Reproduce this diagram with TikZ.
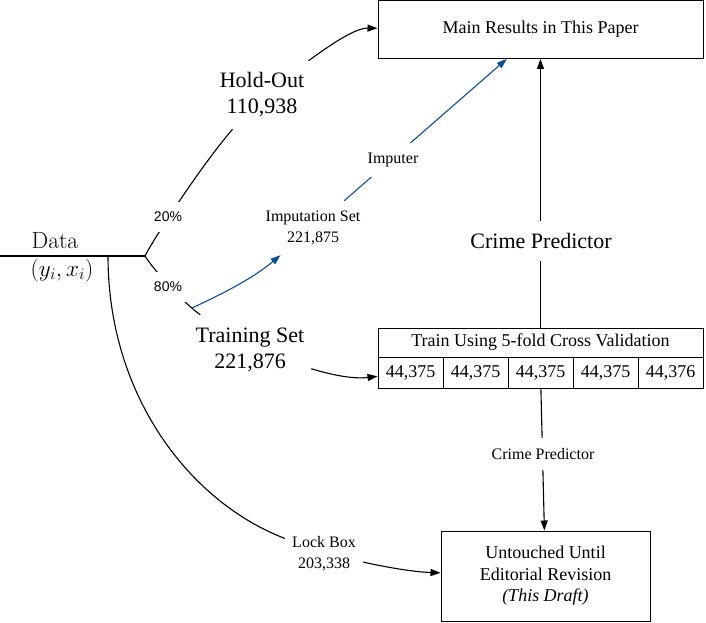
\documentclass[tikz,border=0pt]{standalone}
\usepackage{fontspec}
\usetikzlibrary{arrows.meta}
\newfontfamily\tnr{Liberation Serif}
\newfontfamily\hvs{Liberation Sans}
\definecolor{impblue}{RGB}{16,78,139}
\tikzset{
  fbox/.style={font=\tnr\fontsize{18}{21.5}\selectfont},
  fbig/.style={font=\tnr\fontsize{22}{26}\selectfont},
  fsmall/.style={font=\tnr\fontsize{16}{20.5}\selectfont},
  fsans/.style={font=\hvs\fontsize{14}{16}\selectfont},
  box/.style={draw, line width=1pt, inner sep=0pt, align=center, fbox},
  txt/.style={align=center, inner sep=0pt},
  lbl/.style={fill=white, inner sep=10pt, align=center},
  edge/.style={line width=1.1pt},
  arr/.style={line width=1.1pt, -{Triangle[length=10pt,width=7pt]}},
}
\begin{document}
\begin{tikzpicture}[x=1pt,y=1pt]
\useasboundingbox (0,0) rectangle (706,622);
% boxes
\node[box, minimum width=325, minimum height=58] (main) at (540.5,592.5) {Main Results in This Paper};
\node[box, minimum width=325, minimum height=29] (train) at (540.5,279.5) {Train Using 5-fold Cross Validation};
\node[box, minimum width=65, minimum height=31] (c1) at (410.5,249.5) {44,375};
\node[box, minimum width=65, minimum height=31] (c2) at (475.5,249.5) {44,375};
\node[box, minimum width=65, minimum height=31] (c3) at (540.5,249.5) {44,375};
\node[box, minimum width=65, minimum height=31] (c4) at (605.5,249.5) {44,375};
\node[box, minimum width=65, minimum height=31] (c5) at (670.5,249.5) {44,376};
\node[box, minimum width=209, minimum height=90] (unt) at (545.5,46) {Untouched Until\\Editorial Revision\\\textit{(This Draft)}};
% text nodes
\node[txt, fbig, minimum width=108, minimum height=68] (ho) at (262,527) {Hold-Out\\110,938};
\node[txt, fbig, minimum width=122, minimum height=70] (ts) at (250,272) {Training Set\\221,876};
\node[txt, fsmall, minimum height=54] (imp) at (313,394) {Imputation Set\\221,875};
\node[txt, fsmall, minimum width=78, minimum height=40] (lock) at (324,68.5) {Lock Box\\203,338};
\node[txt, font=\fontsize{23.5}{27}\selectfont] (data) at (55,381.5) {Data};
\node[txt, font=\fontsize{20.74}{24}\selectfont, scale=1.12] (dxy) at (62,351.5) {$(y_i,x_i)$};
% coordinates
\coordinate (d0) at (0,366);
\coordinate (J) at (145,366);
\coordinate (lk) at (108,366);
\coordinate (tb) at (192,314);
% edges
\draw[edge] (d0) -- (J);
\draw[edge] (J) .. controls (153,382) and (200,455) .. (ho);
\draw[edge] (J) .. controls (155,350) and (185,318) .. (ts);
\draw[arr] (ho) .. controls (330,577) and (355,594) .. (main);
\draw[arr, impblue] (tb) .. controls (222,328) and (252,343) .. (imp);
\draw[arr, impblue] (imp) -- (main);
\draw[arr] (ts) .. controls (335,246) and (355,243) .. (c1);
\draw[arr] (train) -- (main);
\draw[arr] (c3) -- (unt);
\draw[edge] (lk) .. controls (108,226) and (190,120) .. (lock);
\draw[arr] (lock) .. controls (390,54) and (415,50) .. (unt);
% labels on edges
\node[lbl, fsans] (p20) at (168,405) {20\%};
\node[lbl, fsans] (p80) at (168,335) {80\%};
\node[lbl, fsmall] (imputer) at (393,462) {Imputer};
\node[lbl, fbig, inner sep=12pt] (cp1) at (541,381) {Crime Predictor};
\node[lbl, fsmall] (cp2) at (543,168) {Crime Predictor};
\end{tikzpicture}
\end{document}
